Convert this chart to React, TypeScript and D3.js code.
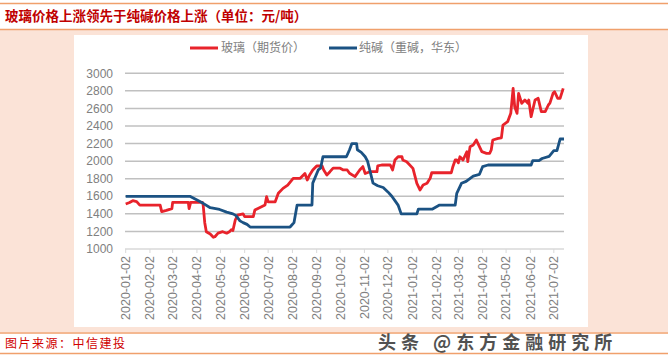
import React from "react";
import * as d3 from "d3";

const title = "玻璃价格上涨领先于纯碱价格上涨（单位：元/吨）";
const source = "图片来源：中信建投";
const watermark = "头条 @东方金融研究所";
const seriesNames = ["玻璃（期货价）", "纯碱（重碱，华东）"];
const yTicks = [1000, 1200, 1400, 1600, 1800, 2000, 2200, 2400, 2600, 2800, 3000];
const xTickLabels = [
  "2020-01-02", "2020-02-02", "2020-03-02", "2020-04-02", "2020-05-02", "2020-06-02",
  "2020-07-02", "2020-08-02", "2020-09-02", "2020-10-02", "2020-11-02", "2020-12-02",
  "2021-01-02", "2021-02-02", "2021-03-02", "2021-04-02", "2021-05-02", "2021-06-02", "2021-07-02",
];

const glass: [string, number][] = [
  ["2020-01-02", 1512], ["2020-01-07", 1530], ["2020-01-11", 1550], ["2020-01-16", 1540],
  ["2020-01-20", 1500], ["2020-02-15", 1500], ["2020-02-17", 1425], ["2020-02-23", 1440],
  ["2020-03-01", 1460], ["2020-03-02", 1530], ["2020-03-22", 1530], ["2020-03-23", 1460],
  ["2020-03-25", 1530], ["2020-04-09", 1530], ["2020-04-10", 1500], ["2020-04-12", 1300],
  ["2020-04-14", 1197], ["2020-04-19", 1170], ["2020-04-23", 1133], ["2020-04-25", 1140],
  ["2020-04-29", 1180], ["2020-05-05", 1197], ["2020-05-10", 1180], ["2020-05-14", 1200],
  ["2020-05-16", 1220], ["2020-05-18", 1210], ["2020-05-21", 1330], ["2020-05-24", 1385],
  ["2020-05-31", 1400], ["2020-06-02", 1368], ["2020-06-13", 1368], ["2020-06-15", 1443],
  ["2020-06-19", 1462], ["2020-06-28", 1500], ["2020-06-30", 1595], ["2020-07-02", 1537],
  ["2020-07-11", 1537], ["2020-07-15", 1634], ["2020-07-21", 1690], ["2020-07-27", 1727],
  ["2020-08-03", 1805], ["2020-08-12", 1805], ["2020-08-18", 1860], ["2020-08-21", 1785],
  ["2020-08-24", 1843], ["2020-08-28", 1900], ["2020-09-02", 1945], ["2020-09-09", 1945],
  ["2020-09-11", 1900], ["2020-09-15", 1843], ["2020-09-19", 1880], ["2020-09-23", 1920],
  ["2020-10-02", 1920], ["2020-10-06", 1900], ["2020-10-11", 1900], ["2020-10-14", 1862],
  ["2020-10-21", 1824], ["2020-10-27", 1900], ["2020-10-31", 1938], ["2020-11-03", 1860],
  ["2020-11-09", 1880], ["2020-11-18", 1880], ["2020-11-19", 1945], ["2020-11-24", 1956],
  ["2020-12-05", 1956], ["2020-12-08", 1900], ["2020-12-11", 2013], ["2020-12-15", 2050],
  ["2020-12-20", 2050], ["2020-12-21", 2013], ["2020-12-26", 1994], ["2021-01-03", 1918],
  ["2021-01-08", 1748], ["2021-01-12", 1672], ["2021-01-16", 1729], ["2021-01-21", 1748],
  ["2021-01-25", 1805], ["2021-01-27", 1868], ["2021-02-21", 1868], ["2021-02-23", 1937],
  ["2021-02-26", 2013], ["2021-02-28", 2013], ["2021-03-02", 1980], ["2021-03-04", 2050],
  ["2021-03-08", 2013], ["2021-03-13", 2108], ["2021-03-14", 1994], ["2021-03-17", 2165],
  ["2021-03-21", 2184], ["2021-03-25", 2241], ["2021-03-27", 2203], ["2021-04-01", 2108],
  ["2021-04-07", 2089], ["2021-04-11", 2089], ["2021-04-13", 2127], ["2021-04-15", 2241],
  ["2021-04-22", 2260], ["2021-04-26", 2265], ["2021-04-28", 2411], ["2021-05-04", 2449],
  ["2021-05-08", 2544], ["2021-05-11", 2829], ["2021-05-13", 2620], ["2021-05-16", 2544],
  ["2021-05-18", 2772], ["2021-05-22", 2658], ["2021-05-26", 2696], ["2021-05-30", 2658],
  ["2021-05-31", 2696], ["2021-06-03", 2506], ["2021-06-08", 2696], ["2021-06-12", 2715],
  ["2021-06-16", 2563], ["2021-06-21", 2563], ["2021-06-25", 2639], ["2021-06-27", 2660],
  ["2021-07-01", 2772], ["2021-07-03", 2790], ["2021-07-07", 2715], ["2021-07-10", 2715],
  ["2021-07-14", 2829],
];

const sodaAsh: [string, number][] = [
  ["2020-01-02", 1600], ["2020-03-24", 1600], ["2020-04-10", 1520], ["2020-04-19", 1470],
  ["2020-05-01", 1450], ["2020-05-10", 1420], ["2020-05-18", 1400], ["2020-05-22", 1380],
  ["2020-05-27", 1320], ["2020-05-31", 1300], ["2020-06-05", 1280], ["2020-06-09", 1250],
  ["2020-07-30", 1250], ["2020-08-01", 1270], ["2020-08-04", 1300], ["2020-08-08", 1500],
  ["2020-08-27", 1500], ["2020-08-28", 1750], ["2020-09-04", 1900], ["2020-09-07", 1920],
  ["2020-09-10", 2050], ["2020-10-10", 2050], ["2020-10-14", 2130], ["2020-10-17", 2200],
  ["2020-10-23", 2200], ["2020-10-24", 2130], ["2020-10-29", 2100], ["2020-11-03", 2050],
  ["2020-11-06", 2000], ["2020-11-13", 1750], ["2020-11-19", 1720], ["2020-11-26", 1700],
  ["2020-12-02", 1650], ["2020-12-07", 1600], ["2020-12-11", 1550], ["2020-12-15", 1500],
  ["2020-12-19", 1400], ["2021-01-08", 1400], ["2021-01-10", 1455], ["2021-01-28", 1455],
  ["2021-02-06", 1500], ["2021-02-26", 1500], ["2021-02-28", 1634], ["2021-03-06", 1748],
  ["2021-03-12", 1770], ["2021-03-21", 1830], ["2021-03-29", 1850], ["2021-04-02", 1937],
  ["2021-04-09", 1956], ["2021-06-03", 1956], ["2021-06-05", 2005], ["2021-06-13", 2005],
  ["2021-06-17", 2030], ["2021-06-26", 2055], ["2021-07-02", 2120], ["2021-07-06", 2120],
  ["2021-07-10", 2252], ["2021-07-15", 2252],
];

const RED = "#e8232b";
const BLUE = "#1b5283";
const PEACH = "#fbe3d7";
const ORANGE = "#f0a06c";
const GRAY_TEXT = "#808080";

export default function App() {
  const parse = d3.timeParse("%Y-%m-%d");
  const x = d3
    .scaleTime()
    .domain([parse("2020-01-02")!, parse("2021-07-15")!])
    .range([125.7, 564]);
  const y = d3.scaleLinear().domain([1000, 3000]).range([249, 73.3]);

  const line = d3
    .line<[string, number]>()
    .x((d) => x(parse(d[0])!))
    .y((d) => y(d[1]));

  const font = "'Liberation Sans', Arial, 'Noto Sans CJK SC', sans-serif";
  const cjk = "'Noto Sans CJK SC', sans-serif";

  return (
    <svg
      width={668}
      height={360}
      style={{ position: "absolute", left: 0, top: 0, display: "block", background: "#fff" }}
    >
      <rect x={0} y={0} width={668} height={360} fill="#fff" />
      <rect x={0} y={30} width={668} height={302} fill={PEACH} />
      <rect x={74} y={35} width={514} height={292} fill="#fff" />
      <line x1={0} x2={668} y1={3.5} y2={3.5} stroke={ORANGE} strokeWidth={1.5} />
      <line x1={0} x2={668} y1={29.5} y2={29.5} stroke={ORANGE} strokeWidth={1.5} />
      <line x1={0} x2={668} y1={333} y2={333} stroke={ORANGE} strokeWidth={1.5} />
      <line x1={0} x2={668} y1={353.5} y2={353.5} stroke={ORANGE} strokeWidth={1.5} />

      <text x={5} y={21} fill="#c00000" fontFamily={cjk} fontWeight="bold" fontSize={13.5}>
        {title}
      </text>
      <text x={5} y={348} fill="#d00000" fontFamily={cjk} fontSize={12} letterSpacing={1.5}>
        {source}
      </text>
      <text
        x={378}
        y={349}
        fill="#333"
        fontFamily={cjk}
        fontWeight="bold"
        fontSize={18}
        letterSpacing={5}
        opacity={0.85}
      >
        {watermark}
      </text>

      {yTicks.map((t) => (
        <line
          key={t}
          x1={125}
          x2={564}
          y1={y(t)}
          y2={y(t)}
          stroke={t === 1000 ? "#d9d9d9" : "#c0c0c0"}
          strokeWidth={1.5}
        />
      ))}
      {yTicks.map((t) => (
        <text
          key={"yl" + t}
          x={113}
          y={y(t)}
          dy="0.35em"
          textAnchor="end"
          fill={GRAY_TEXT}
          fontFamily={font}
          fontSize={12}
        >
          {t}
        </text>
      ))}

      {xTickLabels.map((s) => {
        const px = x(parse(s)!);
        return (
          <g key={s}>
            <line x1={px} x2={px} y1={249} y2={253} stroke="#d9d9d9" strokeWidth={1} />
            <text
              transform={`translate(${px},256) rotate(-90)`}
              dy="0.35em"
              textAnchor="end"
              fill={GRAY_TEXT}
              fontFamily={font}
              fontSize={12.5}
            >
              {s}
            </text>
          </g>
        );
      })}

      <path d={line(glass) || ""} fill="none" stroke={RED} strokeWidth={2.8} strokeLinejoin="round" />
      <path d={line(sodaAsh) || ""} fill="none" stroke={BLUE} strokeWidth={2.8} strokeLinejoin="round" />

      <line x1={190} x2={218} y1={48} y2={48} stroke={RED} strokeWidth={3} />
      <text x={221} y={48} dy="0.35em" fill={GRAY_TEXT} fontFamily={cjk} fontSize={12}>
        {seriesNames[0]}
      </text>
      <line x1={329} x2={357} y1={48} y2={48} stroke={BLUE} strokeWidth={3} />
      <text x={359} y={48} dy="0.35em" fill={GRAY_TEXT} fontFamily={cjk} fontSize={12}>
        {seriesNames[1]}
      </text>
    </svg>
  );
}
